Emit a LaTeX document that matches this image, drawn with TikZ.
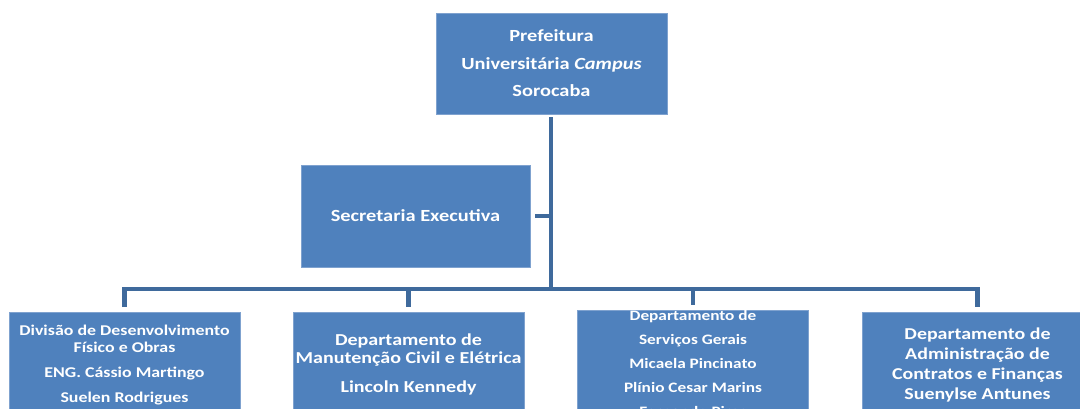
\documentclass[tikz,border=0pt]{standalone}
\usepackage{fontspec}
\setmainfont{Carlito}[FakeStretch=1.2]
\definecolor{boxblue}{HTML}{4F81BD}
\definecolor{boxedge}{HTML}{7FA2CF}
\definecolor{linkblue}{HTML}{3F6A9C}
\tikzset{
  orgbox/.style={draw=boxedge, line width=0.8pt, fill=boxblue, text=white,
    minimum width=231pt, minimum height=101pt, inner sep=0pt, align=center,
    font=\fontsize{17}{20}\selectfont\bfseries},
  link/.style={draw=linkblue, line width=4.5pt, line join=miter}
}
\newcommand{\lowertext}[1]{\rule{0pt}{#1}}
\begin{document}
\begin{tikzpicture}[x=1pt,y=-1pt]
\useasboundingbox (0,0) rectangle (1080,408);
\clip (0,0) rectangle (1080,408);
\node[orgbox, font=\fontsize{17}{27.5}\selectfont\bfseries] (top) at (551.5,63.5)
  {Prefeitura\\ Universitária \textit{Campus}\\ Sorocaba};
\node[orgbox, minimum width=229pt, minimum height=102pt] (sec) at (415.5,216)
  {Secretaria Executiva};
\node[orgbox, font=\fontsize{14.9}{17}\selectfont\bfseries] (b1) at (124.5,363)
  {\lowertext{15pt}Divisão de Desenvolvimento\\ Físico e Obras\\[8pt] ENG. Cássio Martingo\\[8pt] Suelen Rodrigues};
\node[orgbox, font=\fontsize{16.7}{18}\selectfont\bfseries] (b2) at (408.5,363)
  {\lowertext{15pt}Departamento de\\ Manutenção Civil e Elétrica\\[11pt] Lincoln Kennedy};
\node[orgbox, font=\fontsize{14.4}{24}\selectfont\bfseries] (b3) at (693,363)
  {Departamento de\\ Serviços Gerais\\ Micaela Pincinato\\ Plínio Cesar Marins\\ Fernando Pires};
\node[orgbox, font=\fontsize{16.6}{20}\selectfont\bfseries] (b4) at (977.5,363)
  {\lowertext{15pt}Departamento de\\ Administração de\\ Contratos e Finanças\\ Suenylse Antunes};
\coordinate (bar) at (551,289);
\draw[link, shorten <=3pt] (top.south -| bar) -- (bar);
\draw[link, shorten <=5pt] (sec.east) -- (sec.east -| bar);
\draw[link, shorten <=5pt, shorten >=5pt] (b1.north) -- (b1.north |- bar) -- (b4.north |- bar) -- (b4.north);
\draw[link, shorten >=5pt] (b2.north |- bar) -- (b2.north);
\draw[link, shorten >=5pt] (b3.north |- bar) -- (b3.north);
\end{tikzpicture}
\end{document}
